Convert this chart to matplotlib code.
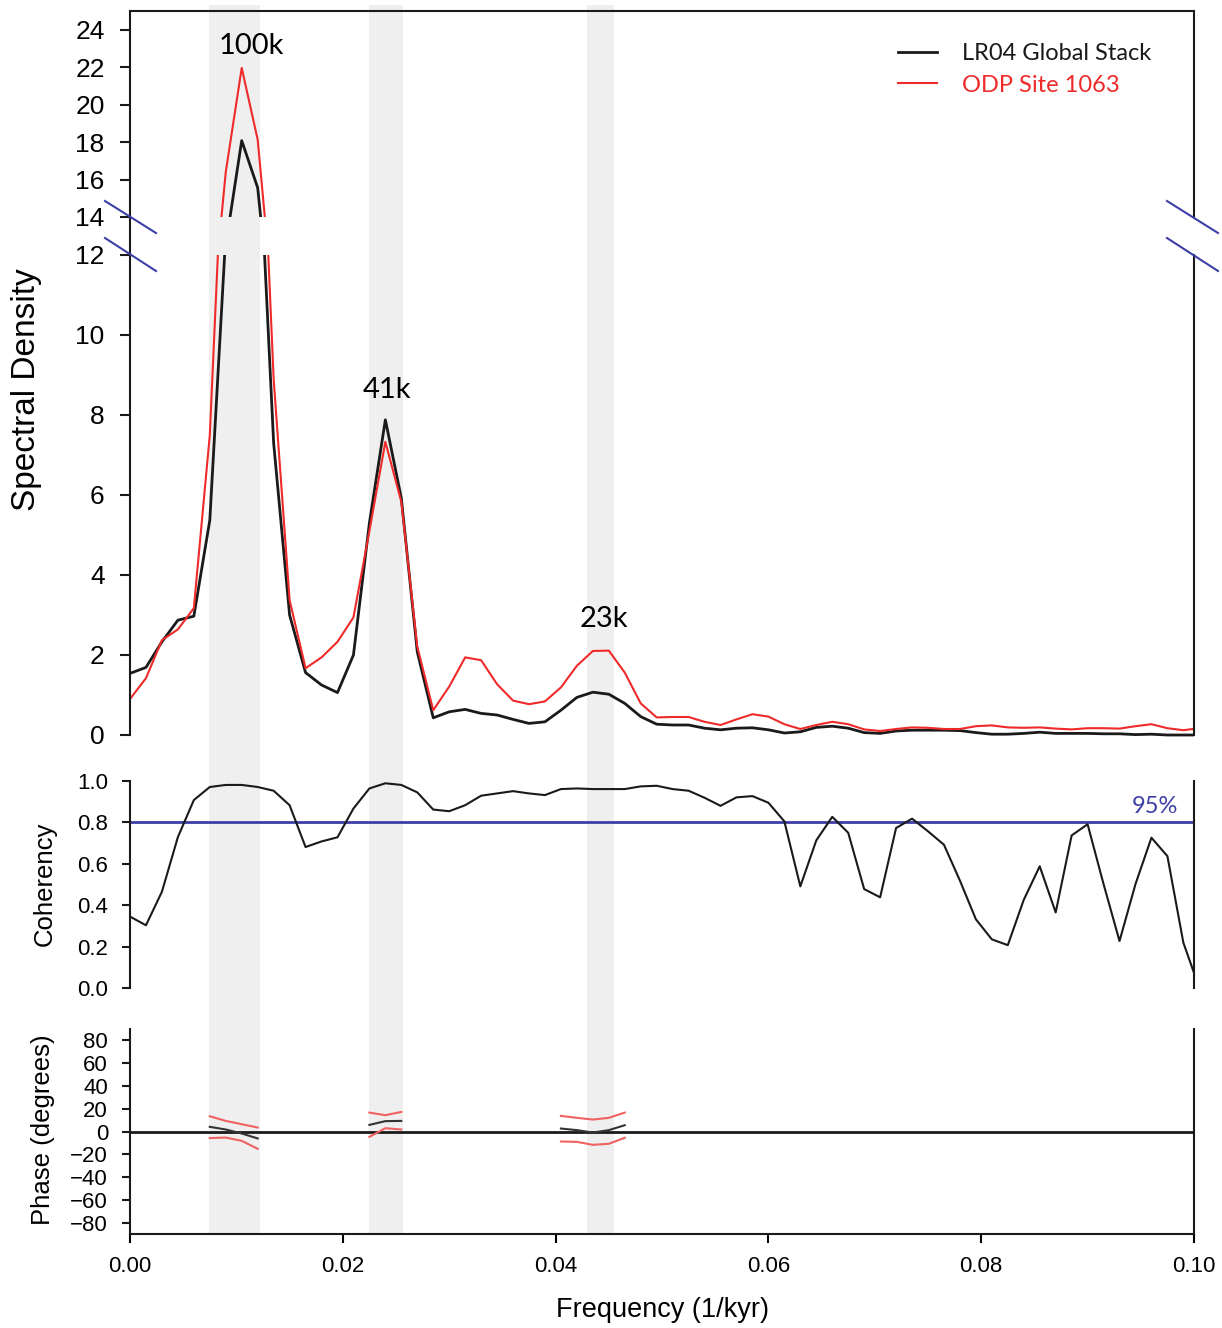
import numpy as np
import matplotlib.pyplot as plt
from matplotlib.lines import Line2D
from matplotlib.patches import Rectangle
from matplotlib.transforms import blended_transform_factory

plt.rcParams['font.family'] = ['Liberation Sans', 'DejaVu Sans']

# frequency step of the spectral estimates (1/kyr)
df = 0.0015

# power spectra, LR04 stack and ODP 1063
lr04_power = [1.54, 1.69, 2.33, 2.87, 2.97, 5.37, 12.5, 18.08, 15.56, 7.3,
              3.0, 1.56, 1.25, 1.06, 2.0, 5.3, 7.88, 5.92, 2.08, 0.43,
              0.58, 0.64, 0.54, 0.50, 0.39, 0.29, 0.33, 0.62, 0.94, 1.07,
              1.02, 0.79, 0.46, 0.27, 0.25, 0.25, 0.17, 0.13, 0.17, 0.18,
              0.13, 0.05, 0.08, 0.19, 0.22, 0.17, 0.06, 0.04, 0.10, 0.12,
              0.12, 0.12, 0.11, 0.06, 0.02, 0.02, 0.04, 0.07, 0.04, 0.04,
              0.04, 0.03, 0.03, 0.01, 0.02, 0.0, 0.0, 0.0]
site1063_power = [0.90, 1.42, 2.37, 2.64, 3.17, 7.5, 16.4, 21.96, 18.13, 8.9,
                  3.37, 1.67, 1.94, 2.33, 2.94, 5.1, 7.33, 5.83, 2.21, 0.62,
                  1.21, 1.94, 1.87, 1.27, 0.86, 0.77, 0.84, 1.19, 1.73, 2.10,
                  2.11, 1.56, 0.79, 0.44, 0.45, 0.45, 0.33, 0.25, 0.39, 0.52,
                  0.46, 0.27, 0.15, 0.25, 0.33, 0.27, 0.14, 0.10, 0.15, 0.19,
                  0.18, 0.15, 0.15, 0.22, 0.24, 0.19, 0.18, 0.19, 0.16, 0.14,
                  0.17, 0.17, 0.16, 0.22, 0.27, 0.17, 0.12, 0.17]
coherency = [0.345, 0.303, 0.465, 0.729, 0.908, 0.971, 0.981, 0.981, 0.971, 0.953,
             0.883, 0.681, 0.708, 0.728, 0.867, 0.964, 0.989, 0.981, 0.945, 0.862,
             0.854, 0.883, 0.929, 0.940, 0.951, 0.940, 0.932, 0.961, 0.964, 0.961,
             0.961, 0.961, 0.974, 0.977, 0.961, 0.953, 0.919, 0.880, 0.921, 0.927,
             0.895, 0.805, 0.491, 0.713, 0.827, 0.750, 0.478, 0.438, 0.773, 0.818,
             0.757, 0.692, 0.519, 0.332, 0.235, 0.207, 0.426, 0.588, 0.365, 0.737,
             0.791, 0.502, 0.227, 0.502, 0.726, 0.637, 0.219, 0.0]
freq = np.arange(len(lr04_power)) * df

coh_95 = 0.8

# phase (degrees) and its error bounds, only across the orbital bands
phase_idx = [[5, 6, 7, 8], [15, 16, 17], [27, 28, 29, 30, 31]]
phase = [[4.1, 1.75, -1.75, -6.1], [5.8, 9.1, 9.3], [2.6, 1.2, -0.9, 1.2, 5.5]]
phase_hi = [[13.4, 9.3, 6.4, 3.5], [16.6, 14.3, 17.2], [13.7, 12.0, 10.5, 12.0, 16.6]]
phase_lo = [[-5.8, -5.3, -8.2, -15.2], [-4.7, 2.9, 1.75], [-8.8, -9.1, -11.7, -10.8, -5.5]]

# orbital bands (100k, 41k, 23k)
orbital_bands = [(0.00742, 0.01222), (0.02246, 0.02566), (0.04295, 0.04549)]

BLACK = '#1a1a1a'
RED = '#ee2a2a'
RED_LIGHT = '#f06262'
NAVY = '#3d3fa6'
BAND = '#efefef'
LABEL_FONT = ['Lato', 'DejaVu Sans']

W, H = 1222, 1328
fig = plt.figure(figsize=(W / 100, H / 100), dpi=100)


def px_axes(left, top, right, bottom):
    return fig.add_axes([left / W, 1 - bottom / H, (right - left) / W, (bottom - top) / H])


def fig_line(xs, ys, **kw):
    fig.add_artist(Line2D([x / W for x in xs], [1 - y / H for y in ys],
                          transform=fig.transFigure, **kw))


ax_hi = px_axes(130, 11, 1194, 217)
ax_lo = px_axes(130, 255, 1194, 737.4)
ax_coh = px_axes(130, 781, 1194, 988)
ax_ph = px_axes(130, 1029, 1194, 1234)

for ax in (ax_hi, ax_lo, ax_coh, ax_ph):
    ax.set_facecolor('none')
    ax.set_xlim(0, 0.1)
    for s in ax.spines.values():
        s.set_linewidth(1.5)
        s.set_color(BLACK)
    ax.spines['bottom'].set_visible(False)
    ax.spines['top'].set_visible(False)
    ax.tick_params(axis='x', bottom=False, labelbottom=False)
    ax.tick_params(axis='y', direction='out', width=1.5, color=BLACK)

ax_hi.spines['top'].set_visible(True)
ax_ph.spines['bottom'].set_visible(True)

# spectral density, broken y axis
ax_hi.set_ylim(14, 25)
ax_hi.set_yticks(range(14, 25, 2))
ax_lo.set_ylim(-0.06, 12)
ax_lo.set_yticks(range(0, 13, 2))
ax_lo.spines['left'].set_bounds(0, 12)
ax_lo.spines['right'].set_bounds(0, 12)
for ax in (ax_hi, ax_lo):
    ax.tick_params(axis='y', length=7.2, labelsize=19, pad=11)
    ax.plot(freq, lr04_power, color=BLACK, lw=2, label='LR04 Global Stack')
    ax.plot(freq, site1063_power, color=RED, lw=1.5, label='ODP Site 1063')

ax_hi.text(0.01137, 23.15, '100k', ha='center', va='center', fontsize=21, family=LABEL_FONT)
ax_lo.text(0.02415, 8.63, '41k', ha='center', va='center', fontsize=21, family=LABEL_FONT)
ax_lo.text(0.04455, 2.9, '23k', ha='center', va='center', fontsize=21, family=LABEL_FONT)

handles, labels = ax_lo.get_legend_handles_labels()
ax_hi.legend(handles, labels, loc='upper left', bbox_to_anchor=(898 / W, 1 - 43 / H),
             bbox_transform=fig.transFigure, frameon=False,
             prop={'family': LABEL_FONT, 'size': 17}, handlelength=1.65,
             handletextpad=1.05, labelspacing=0.45, borderpad=0, borderaxespad=0,
             labelcolor='linecolor')

# break marks and the left spine through the gap
fig_line([130, 130], [217, 255], color=BLACK, lw=1.5)
for x0 in (105, 1167):
    fig_line([x0, x0 + 51], [201, 233], color=NAVY, lw=1.5)
    fig_line([x0, x0 + 51], [238, 271], color=NAVY, lw=1.5)

# coherency
ax_coh.set_ylim(0, 1.0)
ax_coh.set_yticks(np.arange(0, 1.01, 0.2))
ax_coh.set_yticklabels([f'{v:.1f}' for v in np.arange(0, 1.01, 0.2)])
ax_coh.tick_params(axis='y', length=5.8, labelsize=16, pad=10)
ax_coh.axhline(coh_95, color=NAVY, lw=2)
ax_coh.plot(freq, coherency, color=BLACK, lw=1.5)
ax_coh.text(0.0985, 0.878, '95%', color=NAVY, ha='right', va='center',
            fontsize=17, family=LABEL_FONT)

# phase
ax_ph.set_ylim(-90, 90)
ax_ph.set_yticks(range(-80, 81, 20))
ax_ph.tick_params(axis='y', length=5.8, labelsize=16, pad=10)
ax_ph.axhline(0, color=BLACK, lw=2)
for idx, p, hi, lo in zip(phase_idx, phase, phase_hi, phase_lo):
    f = freq[idx]
    ax_ph.plot(f, hi, color=RED_LIGHT, lw=1.5)
    ax_ph.plot(f, lo, color=RED_LIGHT, lw=1.5)
    ax_ph.plot(f, p, color='#333333', lw=1.5)
xt = np.arange(0, 0.101, 0.02)
ax_ph.set_xticks(xt)
ax_ph.set_xticklabels([f'{v:.2f}' for v in xt])
ax_ph.tick_params(axis='x', bottom=True, labelbottom=True, direction='out',
                  length=6.5, width=1.5, labelsize=16, pad=9)

# shaded orbital bands spanning all panels
band_tr = blended_transform_factory(ax_ph.transData, fig.transFigure)
for lo_f, hi_f in orbital_bands:
    fig.add_artist(Rectangle((lo_f, 1 - 1234 / H), hi_f - lo_f, (1234 - 5) / H,
                             transform=band_tr, color=BAND, lw=0, zorder=-1))

fig.text(27 / W, 1 - 390 / H, 'Spectral Density', rotation=90, ha='center', va='center', fontsize=24)
fig.text(45 / W, 1 - 884 / H, 'Coherency', rotation=90, ha='center', va='center', fontsize=18.5)
fig.text(43 / W, 1 - 1130 / H, 'Phase (degrees)', rotation=90, ha='center', va='center', fontsize=18.5)
fig.text(662 / W, 1 - 1310 / H, 'Frequency (1/kyr)', ha='center', va='center', fontsize=19.5)

fig.savefig('out.png', dpi=100)
